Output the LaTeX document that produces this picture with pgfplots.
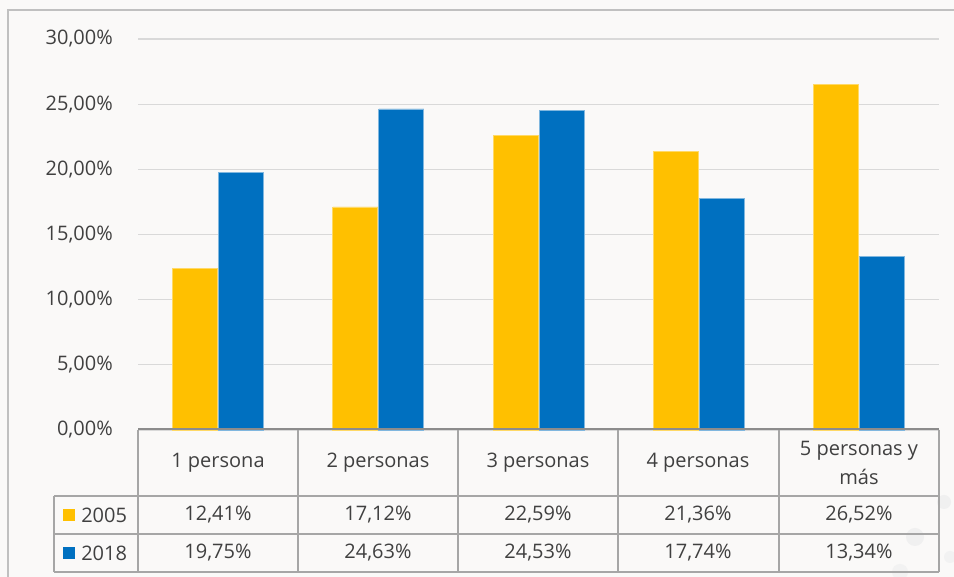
\documentclass[border=0pt]{standalone}
\usepackage{pgfplots}
\pgfplotsset{compat=1.18}
\usepackage{fontspec}
\setmainfont{Open Sans}
\definecolor{yel}{HTML}{FFC000}
\definecolor{blu}{HTML}{0070C0}
\definecolor{gridc}{HTML}{D9D9D9}
\definecolor{tabc}{HTML}{A6A6A6}
\definecolor{axc}{HTML}{8C8C8C}
\definecolor{bgc}{HTML}{FAF9F8}
\definecolor{txt}{HTML}{404040}
\definecolor{frame}{HTML}{C0C0C0}

% hogares por numero de personas
\pgfplotstableread{
cat  a2005  a2018
1    12.41  19.75
2    17.12  24.63
3    22.59  24.53
4    21.36  17.74
5    26.52  13.34
}\datos

\newcommand{\f}{\fontsize{15}{21.75}\selectfont}

\begin{document}
\begin{tikzpicture}[x=0.75pt,y=0.75pt]
% 1 unit = 1 px of the reference, y measured from the bottom
\fill[bgc] (0,0) rectangle (954,577);
\useasboundingbox (0,0) rectangle (954,577);
% faint decoration bottom right
\fill[gray!12] (915,40) circle (9);
\fill[gray!12] (944,75) circle (7);
\fill[gray!10] (900,5) circle (8);
\fill[gray!10] (950,20) circle (6);
% outer frame
\draw[frame, line width=1.5pt] (954,567) -- (8,567) -- (8,0);

\begin{axis}[
  at={(103.5pt,110.25pt)}, anchor=south west,
  scale only axis,
  width=600.75pt, height=293.25pt,
  xmin=0.5, xmax=5.5,
  ymin=0, ymax=30,
  ybar=0.75pt,
  bar width=33.75pt,
  xtick=\empty,
  ytick={0,5,10,15,20,25,30},
  yticklabels={{0,00\%},{5,00\%},{10,00\%},{15,00\%},{20,00\%},{25,00\%},{30,00\%}},
  yticklabel style={font=\f, text=txt, anchor=east, inner sep=0pt, xshift=-18.75pt},
  major tick length=0pt,
  axis line style={draw=none},
  ymajorgrids,
  grid style={gridc, line width=0.9pt},
  clip=false,
]
\addplot[fill=yel, draw=yel!60!white, line width=0.5pt] table[x=cat, y=a2005] {\datos};
\addplot[fill=blu, draw=blu!50!white, line width=0.5pt] table[x=cat, y=a2018] {\datos};
\end{axis}

% data table below the axis
\begin{scope}[tabc, line width=1.1pt]
\foreach \y in {81,43,5} \draw (54,\y) -- (939,\y);
\draw (54,81) -- (54,5);
\foreach \x in {138,298,458,618,779,939} \draw (\x,147) -- (\x,5);
\end{scope}
\draw[axc, line width=1.5pt] (138,147.5) -- (939,147.5);

\begin{scope}[every node/.style={font=\f, text=txt, inner sep=0pt}]
\node at (218,114) {1 persona};
\node at (378,114) {2 personas};
\node at (538,114) {3 personas};
\node at (698,114) {4 personas};
\node[align=center] at (859,114) {5 personas y\\más};

\node at (218,62) {12,41\%};
\node at (378,62) {17,12\%};
\node at (538,62) {22,59\%};
\node at (698,62) {21,36\%};
\node at (859,62) {26,52\%};

\node at (218,24) {19,75\%};
\node at (378,24) {24,63\%};
\node at (538,24) {24,53\%};
\node at (698,24) {17,74\%};
\node at (859,24) {13,34\%};

\fill[yel] (63,56) rectangle (75,68);
\fill[blu] (63,18) rectangle (75,30);
\node[anchor=west] at (81,62) {2005};
\node[anchor=west] at (81,24) {2018};
\end{scope}
\end{tikzpicture}
\end{document}
